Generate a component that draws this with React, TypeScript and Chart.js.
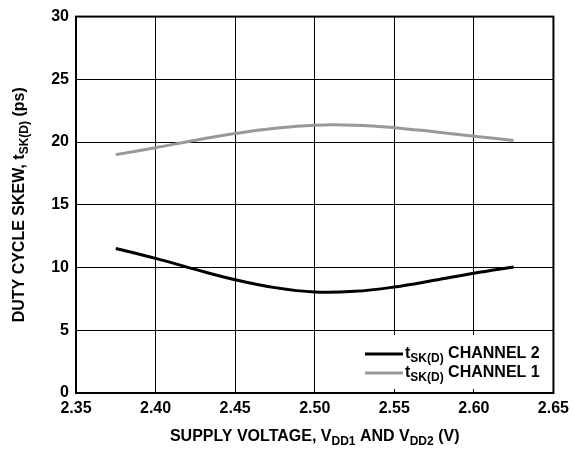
import React, { useEffect, useRef } from "react";
import { Chart, registerables } from "chart.js";

Chart.register(...registerables);

const voltages = [2.375, 2.4, 2.425, 2.45, 2.475, 2.5, 2.525, 2.55, 2.575, 2.6, 2.625];
const channel1 = [19.0, 19.55, 20.15, 20.68, 21.1, 21.35, 21.35, 21.15, 20.82, 20.47, 20.12];
const channel2 = [11.52, 10.73, 9.85, 9.03, 8.4, 8.05, 8.1, 8.45, 8.98, 9.55, 10.05];
const xTicks = ["2.35", "2.40", "2.45", "2.50", "2.55", "2.60", "2.65"];
const yTicks = [0, 5, 10, 15, 20, 25, 30];

const FONT = "'Liberation Sans', Arial, sans-serif";
const MAIN = 16;
const SUB = 12;

type Seg = { t: string; sub?: boolean };

function segWidth(ctx: CanvasRenderingContext2D, segs: Seg[]) {
  let w = 0;
  for (const s of segs) {
    ctx.font = `bold ${s.sub ? SUB : MAIN}px ${FONT}`;
    w += ctx.measureText(s.t).width;
  }
  return w;
}

function drawSegs(ctx: CanvasRenderingContext2D, segs: Seg[], x: number, y: number) {
  let cx = x;
  ctx.textBaseline = "alphabetic";
  ctx.textAlign = "left";
  for (const s of segs) {
    ctx.font = `bold ${s.sub ? SUB : MAIN}px ${FONT}`;
    ctx.fillText(s.t, cx, s.sub ? y + 4 : y);
    cx += ctx.measureText(s.t).width;
  }
}

const xTitle: Seg[] = [
  { t: "SUPPLY VOLTAGE, V" },
  { t: "DD1", sub: true },
  { t: " AND V" },
  { t: "DD2", sub: true },
  { t: " (V)" },
];
const yTitle: Seg[] = [
  { t: "DUTY CYCLE SKEW, t" },
  { t: "SK(D)", sub: true },
  { t: " (ps)" },
];
const leg2: Seg[] = [{ t: "t" }, { t: "SK(D)", sub: true }, { t: " CHANNEL 2" }];
const leg1: Seg[] = [{ t: "t" }, { t: "SK(D)", sub: true }, { t: " CHANNEL 1" }];

const decor = {
  id: "decor",
  afterDraw(chart: any) {
    const ctx = chart.ctx as CanvasRenderingContext2D;
    const a = chart.chartArea;
    ctx.save();
    // frame
    ctx.strokeStyle = "#000";
    ctx.lineWidth = 2;
    ctx.strokeRect(a.left, a.top, a.right - a.left, a.bottom - a.top);
    // legend box
    ctx.fillStyle = "#fff";
    ctx.fillRect(350, 335, a.right - 2 - 350, 54);
    ctx.lineWidth = 3;
    ctx.strokeStyle = "#000";
    ctx.beginPath();
    ctx.moveTo(365, 354);
    ctx.lineTo(403, 354);
    ctx.stroke();
    ctx.strokeStyle = "#999";
    ctx.beginPath();
    ctx.moveTo(365, 373);
    ctx.lineTo(403, 373);
    ctx.stroke();
    ctx.fillStyle = "#000";
    drawSegs(ctx, leg2, 405, 358);
    drawSegs(ctx, leg1, 405, 377);
    // x title
    const wx = segWidth(ctx, xTitle);
    drawSegs(ctx, xTitle, (a.left + a.right) / 2 - wx / 2, 441);
    // y title
    const wy = segWidth(ctx, yTitle);
    ctx.translate(24, (a.top + a.bottom) / 2);
    ctx.rotate(-Math.PI / 2);
    drawSegs(ctx, yTitle, -wy / 2, 0);
    ctx.restore();
  },
};

export default function App() {
  const ref = useRef<HTMLCanvasElement>(null);
  useEffect(() => {
    if (!ref.current) return;
    const chart = new Chart(ref.current, {
      type: "line",
      data: {
        datasets: [
          {
            label: "CHANNEL 2",
            data: voltages.map((v, i) => ({ x: v, y: channel2[i] })),
            borderColor: "#000",
            borderWidth: 3,
            pointRadius: 0,
            tension: 0.4,
          },
          {
            label: "CHANNEL 1",
            data: voltages.map((v, i) => ({ x: v, y: channel1[i] })),
            borderColor: "#999",
            borderWidth: 3,
            pointRadius: 0,
            tension: 0.4,
          },
        ],
      },
      options: {
        responsive: false,
        animation: false,
        layout: { padding: { top: 13, right: 19, left: 0, bottom: 0 } },
        plugins: { legend: { display: false }, tooltip: { enabled: false } },
        scales: {
          x: {
            type: "linear",
            min: 2.35,
            max: 2.65,
            afterBuildTicks: (s: any) => {
              s.ticks = xTicks.map((t) => ({ value: parseFloat(t) }));
            },
            afterFit: (s: any) => {
              s.height = 57;
            },
            ticks: {
              callback: (v: any) => Number(v).toFixed(2),
              color: "#000",
              font: { family: FONT, size: MAIN, weight: "bold" },
              padding: 6,
              maxRotation: 0,
              autoSkip: false,
            },
            grid: { color: "#000", lineWidth: 1, drawTicks: false },
            border: { color: "#000", width: 2 },
          },
          y: {
            min: 0,
            max: 30,
            afterBuildTicks: (s: any) => {
              s.ticks = yTicks.map((t) => ({ value: t }));
            },
            afterFit: (s: any) => {
              s.width = 76;
            },
            ticks: {
              color: "#000",
              font: { family: FONT, size: MAIN, weight: "bold" },
              padding: 7,
            },
            grid: { color: "#000", lineWidth: 1, drawTicks: false },
            border: { color: "#000", width: 2 },
          },
        },
      },
      plugins: [decor],
    } as any);
    return () => chart.destroy();
  }, []);
  return (
    <div style={{ position: "absolute", left: 0, top: 0, width: 575, height: 450, background: "#fff" }}>
      <canvas ref={ref} width={575} height={450} />
    </div>
  );
}
